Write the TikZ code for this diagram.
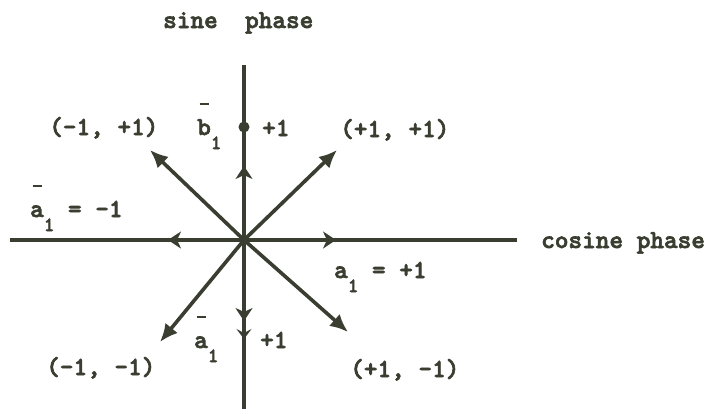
\documentclass[tikz,border=0pt]{standalone}
\usepackage{fontspec}
\newfontfamily\tw{lmmonolt10-bold.otf}[FakeBold=2.5]
\usetikzlibrary{arrows.meta,decorations.markings}
\definecolor{ink}{HTML}{3A3E31}
\newcommand\subone{\raisebox{-14pt}{\fontsize{20}{20}\selectfont 1}}
\newcommand\ovbar{\makebox[0pt][l]{\hspace{2.5pt}\raisebox{30pt}{\rule{9pt}{2.5pt}}}}
\tikzset{
  lbl/.style={inner sep=0pt, anchor=base west, text=ink, font=\tw\fontsize{26}{28}\selectfont},
  axisline/.style={draw=ink, line width=3.6pt, postaction=decorate},
  vec/.style={draw=ink, line width=3.6pt, -{Latex[length=18pt,width=16pt]}},
}
\begin{document}
\begin{tikzpicture}[x=1pt,y=-1pt]
\useasboundingbox[fill=white] (0,0) rectangle (706,408);
\coordinate (O) at (244,240);
\coordinate (T) at (244,65);
\coordinate (B) at (244,410);
\coordinate (L) at (10,240);
\coordinate (R) at (517,240);
\coordinate (PP) at (337,150);
\coordinate (MP) at (150,150);
\coordinate (MM) at (160,342);
\coordinate (PM) at (348,332);
% axes
\draw[axisline, decoration={markings,
   mark=at position 74pt with {\arrow{Stealth[length=13pt,width=17pt,inset=4pt]}},
   mark=at position 113pt with {\fill[ink] (0,0) circle (5.5pt);}}] (O) -- (T);
\draw[axisline, decoration={markings,
   mark=at position 81pt with {\arrow{Stealth[length=13pt,width=17pt,inset=4pt]}},
   mark=at position 99pt with {\arrow{Stealth[length=10pt,width=15pt,inset=4pt]}}}] (O) -- (B);
\draw[axisline, decoration={markings,
   mark=at position 76pt with {\arrow{Stealth[length=13pt,width=17pt,inset=4pt]}}}] (O) -- (L);
\draw[axisline, decoration={markings,
   mark=at position 92pt with {\arrow{Stealth[length=13pt,width=17pt,inset=4pt]}}}] (O) -- (R);
% vectors
\draw[vec] (O) -- (PP);
\draw[vec] (O) -- (MP);
\draw[vec] (O) -- (MM);
\draw[vec] (O) -- (PM);
% labels
\node[lbl] (sine) at (163,28) {sine\ \ phase};
\node[lbl] (cos) at (541,248) {cosine phase};
\node[lbl] (mp) at (49,135) {(-1, +1)};
\node[lbl] (pp) at (340,137) {(+1, +1)};
\node[lbl] (mm) at (46,375) {(-1, -1)};
\node[lbl] (pm) at (350,377) {(+1, -1)};
\node[lbl] (b1) at (197,135) {\ovbar b\subone};
\node[lbl] (tp) at (262,136) {+1};
\node[lbl] (am) at (30,217) {\ovbar a\subone{} = -1};
\node[lbl] (ap) at (334,278) {a\subone{} = +1};
\node[lbl] (ab) at (194,348) {\ovbar a\subone};
\node[lbl] (bp) at (260,348) {+1};
\end{tikzpicture}
\end{document}
